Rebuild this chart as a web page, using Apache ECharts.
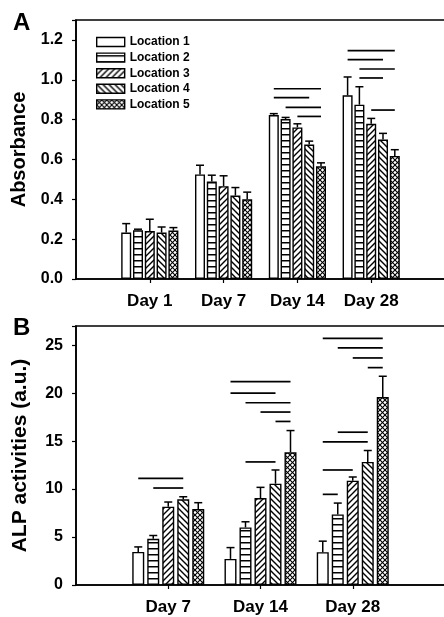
<!DOCTYPE html>
<html><head><meta charset="utf-8">
<script src="https://cdn.jsdelivr.net/npm/echarts@6/dist/echarts.min.js"></script>
<style>html,body{margin:0;padding:0;background:#fff}#c{width:444px;height:617px}</style>
</head><body><div id="c"></div>
<script>
// ---------- data ----------
const seriesNames = ['Location 1', 'Location 2', 'Location 3', 'Location 4', 'Location 5'];
const catsA = ['', 'Day 1', 'Day 7', 'Day 14', 'Day 28', ''];
const catsB = ['', 'Day 7', 'Day 14', 'Day 28', ''];
const ticksA = [0, 0.2, 0.4, 0.6, 0.8, 1.0, 1.2];
const ticksB = [0, 5, 10, 15, 20, 25];

// Panel A: absorbance, rows = locations, cols = Day 1, 7, 14, 28
const absMean = [
  [0.233, 0.525, 0.823, 0.922],
  [0.245, 0.489, 0.803, 0.875],
  [0.241, 0.466, 0.761, 0.779],
  [0.233, 0.419, 0.675, 0.700],
  [0.243, 0.400, 0.566, 0.618]
];
const absErr = [
  [0.045, 0.046, 0.007, 0.092],
  [0.005, 0.032, 0.008, 0.090],
  [0.059, 0.052, 0.018, 0.027],
  [0.028, 0.040, 0.017, 0.031],
  [0.015, 0.036, 0.017, 0.031]
];
// significance bars A: [category position, from location, to location, height]
const sigA = [
  [3, 0, 4, 0.955], [3, 0, 3, 0.910], [3, 1, 4, 0.861], [3, 2, 4, 0.816],
  [4, 0, 4, 1.146], [4, 0, 3, 1.101], [4, 1, 4, 1.054], [4, 1, 3, 1.009], [4, 2, 4, 0.848]
];

// Panel B: ALP activities, cols = Day 7, 14, 28
const alpMean = [
  [3.45, 2.72, 3.42],
  [4.81, 6.00, 7.36],
  [8.16, 9.07, 10.88],
  [8.93, 10.56, 12.83],
  [7.91, 13.84, 19.60]
];
const alpErr = [
  [0.52, 1.18, 1.15],
  [0.35, 0.59, 1.18],
  [0.49, 1.11, 0.38],
  [0.27, 1.43, 1.19],
  [0.67, 2.26, 2.16]
];
const sigB = [
  [1, 0, 3, 11.12], [1, 1, 3, 10.11],
  [2, 0, 4, 21.20], [2, 0, 3, 20.01], [2, 1, 4, 19.00], [2, 2, 4, 18.03], [2, 3, 4, 17.05], [2, 1, 3, 12.83],
  [3, 0, 4, 25.70], [3, 1, 4, 24.72], [3, 2, 4, 23.67], [3, 3, 4, 22.66], [3, 1, 3, 15.93], [3, 0, 3, 14.92], [3, 0, 2, 11.99], [3, 0, 1, 9.45]
];

// ---------- styling ----------
const FONT = '"Liberation Sans", Arial, sans-serif';
const barWA = 10, gapA = 0.18;
const barWB = 12, gapB = 0.25;
const pitchA = barWA * (1 + gapA), pitchB = barWB * (1 + gapB);

function makePattern(kind) {
  const s = kind === 'cross' ? 5 : 6;
  const cv = document.createElement('canvas');
  cv.width = s; cv.height = s;
  const g = cv.getContext('2d');
  g.fillStyle = '#fff'; g.fillRect(0, 0, s, s);
  g.strokeStyle = '#000'; g.fillStyle = '#000'; g.lineWidth = 1.4;
  if (kind === 'h') { g.fillRect(0, 2, s, 1.5); }
  const fwd = () => { g.beginPath(); g.moveTo(0, s); g.lineTo(s, 0); g.moveTo(-1, 1); g.lineTo(1, -1); g.moveTo(s - 1, s + 1); g.lineTo(s + 1, s - 1); g.stroke(); };
  const back = () => { g.beginPath(); g.moveTo(0, 0); g.lineTo(s, s); g.moveTo(-1, s - 1); g.lineTo(1, s + 1); g.moveTo(s - 1, -1); g.lineTo(s + 1, 1); g.stroke(); };
  if (kind === 'f') fwd();
  if (kind === 'b') back();
  if (kind === 'cross') { g.lineWidth = 1.1; fwd(); back(); }
  return { image: cv, repeat: 'repeat' };
}
const fills = ['#ffffff', makePattern('h'), makePattern('f'), makePattern('b'), makePattern('cross')];

function errRender(pitch, cap) {
  return function (params, api) {
    const c = api.value(0), m = api.value(1), e = api.value(2), k = api.value(3);
    const p0 = api.coord([c, m]);
    const p1 = api.coord([c, m + e]);
    const x = p0[0] + (k - 2) * pitch;
    return { type: 'group', children: [
      { type: 'line', shape: { x1: x, y1: p0[1], x2: x, y2: p1[1] }, style: { stroke: '#000', lineWidth: 1.5 } },
      { type: 'line', shape: { x1: x - cap / 2, y1: p1[1], x2: x + cap / 2, y2: p1[1] }, style: { stroke: '#000', lineWidth: 1.5 } }
    ] };
  };
}
function sigRender(pitch) {
  return function (params, api) {
    const c = api.value(0), a = api.value(1), b = api.value(2), h = api.value(3);
    const p = api.coord([c, h]);
    return { type: 'line', shape: { x1: p[0] + (a - 2) * pitch, y1: p[1], x2: p[0] + (b - 2) * pitch, y2: p[1] },
      style: { stroke: '#000', lineWidth: 1.7 } };
  };
}

const series = [];
seriesNames.forEach((name, i) => {
  const style = { color: fills[i], borderColor: '#000', borderWidth: 1.4 };
  series.push({ name, type: 'bar', xAxisIndex: 0, yAxisIndex: 0, barWidth: barWA, barGap: (gapA * 100) + '%',
    data: [null].concat(absMean[i]).concat([null]), itemStyle: style });
  series.push({ name, type: 'bar', xAxisIndex: 1, yAxisIndex: 1, barWidth: barWB, barGap: (gapB * 100) + '%',
    data: [null].concat(alpMean[i]).concat([null]), itemStyle: style });
});
const errDataA = [], errDataB = [];
absMean.forEach((row, k) => row.forEach((v, j) => errDataA.push([j + 1, v, absErr[k][j], k])));
alpMean.forEach((row, k) => row.forEach((v, j) => errDataB.push([j + 1, v, alpErr[k][j], k])));
series.push({ type: 'custom', xAxisIndex: 0, yAxisIndex: 0, renderItem: errRender(pitchA, 8), data: errDataA, z: 5 });
series.push({ type: 'custom', xAxisIndex: 1, yAxisIndex: 1, renderItem: errRender(pitchB, 8), data: errDataB, z: 5 });
series.push({ type: 'custom', xAxisIndex: 0, yAxisIndex: 0, renderItem: sigRender(pitchA), data: sigA, z: 5 });
series.push({ type: 'custom', xAxisIndex: 1, yAxisIndex: 1, renderItem: sigRender(pitchB), data: sigB, z: 5 });

function xAxisCfg(grid, cats) {
  const last = cats.length - 1;
  return {
    type: 'category', gridIndex: grid, data: cats, boundaryGap: false,
    axisLine: { lineStyle: { color: '#000', width: 1.6 } },
    axisTick: { show: true, length: 4, interval: (i) => i > 0 && i < last, lineStyle: { color: '#000', width: 1.2 } },
    axisLabel: { interval: 0, color: '#000', fontSize: 17, fontWeight: 'bold', fontFamily: FONT, margin: 14 },
    splitLine: { show: false }
  };
}
function yAxisCfg(grid, max, step, ticks, name, digits, nameSize, gap) {
  return {
    type: 'value', gridIndex: grid, min: 0, max, interval: step,
    name, nameLocation: 'middle', nameGap: gap,
    nameTextStyle: { color: '#000', fontSize: nameSize, fontWeight: 'bold', fontFamily: FONT },
    axisLine: { show: true, lineStyle: { color: '#000', width: 1.6 } },
    axisTick: { show: true, length: 4, lineStyle: { color: '#000', width: 1.2 } },
    axisLabel: { color: '#000', fontSize: 16, fontWeight: 'bold', fontFamily: FONT, margin: 13,
      formatter: (v) => ticks.some(t => Math.abs(t - v) < 1e-9) ? v.toFixed(digits) : '' },
    splitLine: { show: false }
  };
}

const chart = echarts.init(document.getElementById('c'), null, { renderer: 'canvas' });
chart.setOption({
  animation: false,
  backgroundColor: '#fff',
  textStyle: { fontFamily: FONT },
  grid: [
    { left: 76, top: 20, right: -1, height: 259, show: true, borderColor: '#000', borderWidth: 1.6, outerBoundsMode: 'none', containLabel: false },
    { left: 76, top: 326, right: -1, height: 259, show: true, borderColor: '#000', borderWidth: 1.6, outerBoundsMode: 'none', containLabel: false }
  ],
  xAxis: [xAxisCfg(0, catsA), xAxisCfg(1, catsB)],
  yAxis: [yAxisCfg(0, 1.3, 0.2, ticksA, 'Absorbance', 1, 20, 46), yAxisCfg(1, 27, 5, ticksB, 'ALP activities (a.u.)', 0, 21, 45)],
  legend: {
    data: seriesNames, orient: 'vertical', left: 91, top: 31, icon: 'rect',
    itemWidth: 28, itemHeight: 9, itemGap: 3.6, selectedMode: false,
    itemStyle: { borderColor: '#000', borderWidth: 1.4 },
    textStyle: { color: '#000', fontSize: 12, fontWeight: 'bold', fontFamily: FONT, lineHeight: 12 }
  },
  graphic: [
    { type: 'text', left: 13, top: 11, style: { text: 'A', fill: '#000', font: 'bold 24px ' + FONT } },
    { type: 'text', left: 13, top: 316, style: { text: 'B', fill: '#000', font: 'bold 24px ' + FONT } }
  ],
  series
});
</script></body></html>
